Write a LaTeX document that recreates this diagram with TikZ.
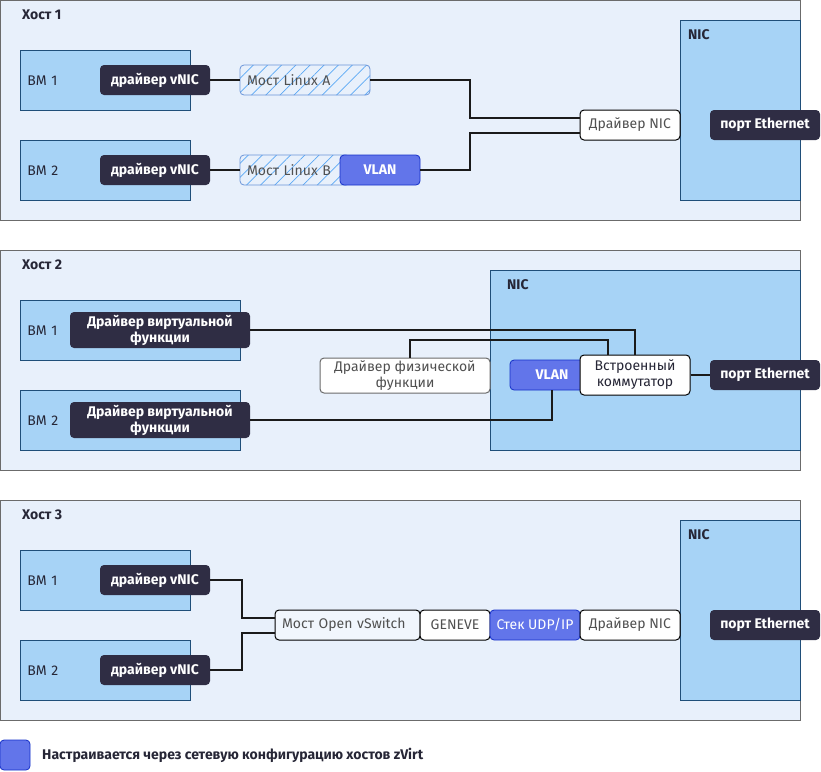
\documentclass[tikz,border=0pt]{standalone}
\usepackage{fontspec}
\setmainfont{Fira Sans}
\usetikzlibrary{patterns.meta}
\definecolor{hostbg}{HTML}{E8F0FB}
\definecolor{hostline}{HTML}{6B6B6B}
\definecolor{vmfill}{HTML}{A7D3F6}
\definecolor{vmline}{HTML}{1F4E79}
\definecolor{darkbox}{HTML}{2F2D44}
\definecolor{vlanfill}{HTML}{6275EA}
\definecolor{vlanline}{HTML}{1530C8}
\definecolor{hatch}{HTML}{5AA8F5}
\definecolor{hatchline}{HTML}{6A94D8}
\definecolor{graytext}{HTML}{505050}
\definecolor{titletext}{HTML}{262636}
\definecolor{wirecol}{HTML}{1A1A1A}

\begin{document}
\begin{tikzpicture}[x=1pt,y=-1pt,font=\fontsize{14}{16}\selectfont,
  host/.style={draw=hostline,fill=hostbg,line width=1pt},
  nic/.style={draw=vmline,fill=vmfill,line width=0.8pt},
  title/.style={anchor=west,font=\fontsize{14}{16}\selectfont\bfseries,text=titletext,inner sep=0pt},
  vm/.style={draw=vmline,fill=vmfill,line width=0.8pt,anchor=north west,minimum height=60pt,inner xsep=7pt,inner ysep=0pt,align=left,text=titletext},
  drv/.style={fill=darkbox,text=white,font=\fontsize{14}{16}\selectfont\bfseries,rounded corners=4pt,minimum height=30pt,inner sep=0pt,align=center},
  bridge/.style={draw=hatchline,line width=0.8pt,pattern={Lines[angle=45,distance=10pt,line width=0.7pt]},pattern color=hatch,rounded corners=4pt,minimum height=30pt,inner xsep=7pt,inner ysep=0pt,align=left,text=graytext},
  vlan/.style={draw=vlanline,line width=0.8pt,fill=vlanfill,text=white,font=\fontsize{14}{16}\selectfont\bfseries,rounded corners=4pt,minimum height=30pt,inner sep=0pt},
  plain/.style={draw=black,line width=1pt,fill=white,rounded corners=4pt,minimum height=30pt,text=graytext,inner sep=0pt,align=center},
  wire/.style={line width=2pt,draw=wirecol}]
\useasboundingbox (0,0) rectangle (821,771);

\draw[host] (0.5,0.5) rectangle (800,220);
\draw[host] (0.5,250) rectangle (800,470);
\draw[host] (0.5,500) rectangle (800,720);
\draw[nic] (680,20) rectangle (800,200);
\draw[nic] (490,270) rectangle (800,450);
\draw[nic] (680,520) rectangle (800,700);

\node[title] (h1) at (22,15) {Хост 1};
\node[title] (h2) at (22,265) {Хост 2};
\node[title] (h3) at (22,515) {Хост 3};
\node[title] (nic1) at (688,35) {NIC};
\node[title] (nic2) at (507,285) {NIC};
\node[title] (nic3) at (688,535) {NIC};

\node[vm,text width=156pt] (vm11) at (20,50) {ВМ 1};
\node[vm,text width=156pt] (vm12) at (20,140) {ВМ 2};
\node[drv,minimum width=110pt] (vnic11) at (155,80) {драйвер vNIC};
\node[drv,minimum width=110pt] (vnic12) at (155,170) {драйвер vNIC};
\node[bridge,text width=116pt] (brA) at (305,80) {Мост Linux A};
\node[bridge,text width=96pt] (brB) at (295,170) {Мост Linux B};
\node[vlan,minimum width=80pt] (vlan1) at (380,170) {VLAN};
\node[plain,minimum width=100pt] (nicdrv1) at (630,125) {Драйвер NIC};
\node[drv,minimum width=110pt] (eth1) at (765,125) {порт Ethernet};

\draw[wire] (vnic11) -- (brA);
\draw[wire] (vnic12) -- (brB);
\draw[wire] (brA.east) -- ++(100,0) |- ([yshift=7pt]nicdrv1.west);
\draw[wire] (vlan1.east) -- ++(50,0) |- ([yshift=-8pt]nicdrv1.west);

\node[vm,text width=206pt] (vm21) at (20,300) {ВМ 1};
\node[vm,text width=206pt] (vm22) at (20,390) {ВМ 2};
\node[drv,minimum width=180pt,minimum height=36pt] (vf1) at (160,330) {Драйвер виртуальной\\функции};
\node[drv,minimum width=180pt,minimum height=36pt] (vf2) at (160,420) {Драйвер виртуальной\\функции};
\node[plain,draw=hostline,minimum width=170pt,minimum height=35pt] (pf) at (405,375.5) {Драйвер физической\\функции};
\node[vlan,minimum width=84pt] (vlan2) at (552,375) {VLAN};
\node[plain,minimum width=110pt,minimum height=40pt,text=titletext] (sw) at (635,375) {Встроенный\\коммутатор};
\node[drv,minimum width=110pt] (eth2) at (765,375) {порт Ethernet};

\draw[wire] (vf1.east) -| (sw.north);
\draw[wire] ([xshift=5pt]pf.north) -- ++(0,-18) -| ([xshift=-27pt]sw.north);
\draw[wire] (vf2.east) -| (vlan2.south);
\draw[wire] (sw) -- (eth2);

\node[vm,text width=156pt] (vm31) at (20,550) {ВМ 1};
\node[vm,text width=156pt] (vm32) at (20,640) {ВМ 2};
\node[drv,minimum width=110pt] (vnic31) at (155,580) {драйвер vNIC};
\node[drv,minimum width=110pt] (vnic32) at (155,670) {драйвер vNIC};
\node[plain,fill=hostbg!60!white,minimum width=145pt,text width=131pt,align=left,inner xsep=7pt] (ovs) at (347.5,625) {Мост Open vSwitch};
\node[plain,minimum width=70pt] (geneve) at (455,625) {GENEVE};
\node[vlan,minimum width=90pt] (udp) at (535,625) {\mdseries Стек UDP/IP};
\node[plain,minimum width=100pt] (nicdrv3) at (630,625) {Драйвер NIC};
\node[drv,minimum width=110pt] (eth3) at (765,625) {порт Ethernet};

\draw[wire] (vnic31.east) -- ++(32,0) |- ([yshift=7pt]ovs.west);
\draw[wire] (vnic32.east) -- ++(32,0) |- ([yshift=-8pt]ovs.west);

\node[vlan,minimum width=30pt,minimum height=30pt] (legbox) at (15,755) {};
\node[title] (legtext) at (42,755) {Настраивается через сетевую конфигурацию хостов zVirt};
\end{tikzpicture}
\end{document}
